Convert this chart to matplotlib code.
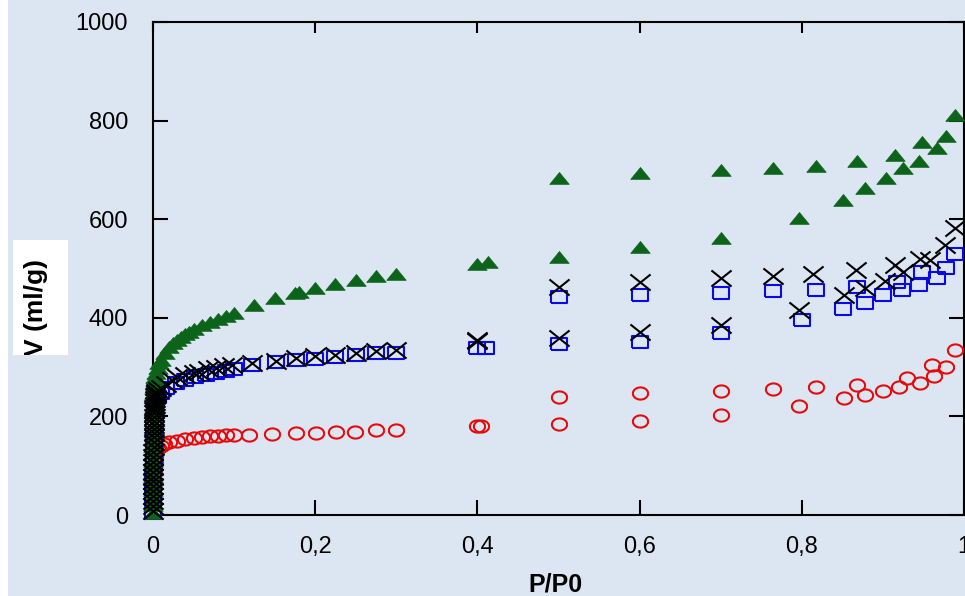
import matplotlib
matplotlib.use("Agg")
import matplotlib.pyplot as plt
import numpy as np
from matplotlib.path import Path
from matplotlib.patches import Rectangle
from matplotlib.ticker import FixedLocator, FuncFormatter

# ---- data ----
# green triangles
green_x = [0.0, 0.0, 0.0001, 0.0001, 0.0002, 0.0002, 0.0003, 0.0003, 0.0004, 0.0005,
           0.0006, 0.0007, 0.0008, 0.0009, 0.001, 0.0012, 0.0014, 0.0016, 0.0018, 0.002,
           0.0025, 0.003, 0.004, 0.006, 0.008, 0.01, 0.015, 0.02, 0.025, 0.03, 0.035,
           0.04, 0.045, 0.05, 0.06, 0.07, 0.08, 0.09, 0.1, 0.125, 0.15, 0.175, 0.18,
           0.2, 0.225, 0.25, 0.275, 0.3, 0.4, 0.5, 0.6, 0.7, 0.797, 0.851, 0.878,
           0.904, 0.925, 0.944, 0.967, 0.989,
           0.978, 0.948, 0.915, 0.868, 0.817, 0.764, 0.7, 0.6, 0.5, 0.413]
green_y = [5, 20, 35, 50, 65, 80, 95, 110, 125, 140,
           155, 170, 185, 200, 212, 224, 236, 248, 258, 266,
           274, 280, 288, 298, 308, 315, 328, 340, 348, 355, 362,
           367, 372, 377, 385, 392, 398, 404, 410, 425, 440, 450, 453,
           460, 468, 477, 485, 488, 510, 523, 544, 562, 602, 639, 663,
           684, 704, 718, 744, 811,
           769, 757, 730, 718, 708, 704, 700, 694, 683, 513]

# black crosses
black_x = [0.0, 0.0, 0.0001, 0.0001, 0.0002, 0.0002, 0.0003, 0.0003, 0.0004, 0.0004,
           0.0005, 0.0005, 0.0006, 0.0007, 0.0008, 0.0009, 0.001, 0.0011, 0.0012, 0.0013,
           0.0014, 0.0015, 0.0016, 0.0018, 0.002, 0.0022, 0.0025, 0.003, 0.0035, 0.004,
           0.006, 0.01, 0.016, 0.023, 0.03, 0.04, 0.05, 0.057, 0.068, 0.078,
           0.088, 0.098, 0.122, 0.152, 0.176, 0.2, 0.225, 0.25, 0.275, 0.3, 0.4,
           0.5, 0.6, 0.7, 0.797, 0.852, 0.878, 0.902, 0.925, 0.946, 0.977, 0.989,
           0.958, 0.915, 0.867, 0.814, 0.764, 0.7, 0.6, 0.5, 0.4]
black_y = [8, 18, 28, 38, 48, 58, 68, 78, 88, 98,
           108, 118, 128, 138, 148, 158, 166, 174, 182, 190,
           198, 206, 212, 218, 224, 230, 236, 241, 246, 250,
           254, 258, 266, 274, 279, 284, 288, 291, 296, 299,
           302, 304, 308, 313, 319, 322, 325, 328, 332, 335, 352,
           359, 371, 385, 416, 446, 460, 475, 493, 520, 548, 582,
           517, 507, 497, 489, 485, 481, 473, 462, 355]

# blue squares
blue_x = [0.0, 0.0002, 0.0004, 0.0006, 0.0008, 0.001, 0.0012, 0.0015, 0.002, 0.0025,
          0.003, 0.004, 0.006, 0.01, 0.016, 0.028, 0.04, 0.052, 0.065, 0.078,
          0.09, 0.1, 0.122, 0.152, 0.176, 0.2, 0.225, 0.25, 0.275, 0.3, 0.4, 0.41,
          0.5, 0.6, 0.7, 0.8, 0.851, 0.878, 0.9, 0.923, 0.944, 0.967, 0.989,
          0.978, 0.948, 0.917, 0.868, 0.817, 0.764, 0.7, 0.6, 0.5]
blue_y = [5, 30, 55, 80, 105, 130, 155, 180, 200, 215,
          225, 232, 240, 248, 258, 268, 274, 279, 284, 289,
          293, 296, 304, 310, 314, 316, 320, 325, 329, 329, 339, 339,
          347, 351, 369, 396, 418, 430, 446, 456, 466, 481, 529,
          501, 493, 473, 462, 456, 454, 450, 446, 442]

# red circles
red_x = [0.0, 0.0005, 0.001, 0.0015, 0.002, 0.003, 0.004, 0.006, 0.01, 0.014,
         0.02, 0.03, 0.04, 0.05, 0.06, 0.07, 0.08, 0.09, 0.1, 0.118, 0.147,
         0.176, 0.201, 0.226, 0.249, 0.275, 0.3, 0.4, 0.405, 0.5, 0.6, 0.7,
         0.797, 0.852, 0.878, 0.9, 0.92, 0.946, 0.963, 0.978, 0.989,
         0.96, 0.93, 0.868, 0.817, 0.764, 0.7, 0.6, 0.5]
red_y = [25, 45, 65, 85, 105, 120, 130, 136, 140, 145,
         148, 151, 154, 156, 158, 160, 161, 162, 163, 163, 164,
         166, 166, 168, 168, 172, 172, 180, 180, 184, 191, 203,
         221, 237, 243, 251, 260, 268, 282, 300, 335,
         304, 278, 264, 259, 255, 252, 248, 240]

x_ticks = [0, 0.2, 0.4, 0.6, 0.8, 1.0]
y_ticks = [0, 200, 400, 600, 800, 1000]

BG = "#dce6f2"
GREEN = "#0b6419"
BLUE = "#0a0ae6"
RED = "#e60a0a"

# marker shapes (the original is stretched horizontally)
tri = [(-1, -0.6), (1, -0.6), (0, 0.62), (-1, -0.6)]
rect = [(-1, -0.8), (1, -0.8), (1, 0.8), (-1, 0.8), (-1, -0.8)]
cross = Path([(-1, -0.8), (1, 0.8), (-1, 0.8), (1, -0.8)],
             [Path.MOVETO, Path.LINETO, Path.MOVETO, Path.LINETO])
t = np.linspace(0, 2 * np.pi, 25)
ell = list(zip(np.cos(t), 0.8 * np.sin(t)))

plt.rcParams['font.family'] = ['Liberation Sans', 'DejaVu Sans']

fig = plt.figure(figsize=(9.65, 5.96), dpi=100, facecolor=BG)
# white strip on the left edge
fig.patches.append(Rectangle((0, 0), 8 / 965, 1, transform=fig.transFigure,
                             facecolor="white", edgecolor="none", zorder=0))

ax = fig.add_axes([153 / 965, 81 / 596, 811 / 965, 493 / 596])
ax.set_facecolor(BG)

ax.plot(red_x, red_y, linestyle="none", marker=ell, markersize=11, clip_on=False,
        markerfacecolor="none", markeredgecolor=RED, markeredgewidth=1.5, zorder=3)
ax.plot(blue_x, blue_y, linestyle="none", marker=rect, markersize=11.5, clip_on=False,
        markerfacecolor="none", markeredgecolor=BLUE, markeredgewidth=1.5, zorder=4)
ax.plot(green_x, green_y, linestyle="none", marker=tri, markersize=14, clip_on=False,
        markerfacecolor=GREEN, markeredgecolor=GREEN, markeredgewidth=0.5, zorder=4.5)
ax.plot(black_x, black_y, linestyle="none", marker=cross, markersize=14.5, clip_on=False,
        markerfacecolor="none", markeredgecolor="black", markeredgewidth=1.5, zorder=5)

ax.set_xlim(0, 1)
ax.set_ylim(0, 1000)
ax.xaxis.set_major_locator(FixedLocator(x_ticks))
ax.yaxis.set_major_locator(FixedLocator(y_ticks))
ax.xaxis.set_major_formatter(FuncFormatter(lambda v, p: ("%g" % v).replace(".", ",")))

for s in ax.spines.values():
    s.set_linewidth(1.5)
ax.tick_params(axis="both", direction="in", length=11, width=1.5, labelsize=17,
               top=False, right=True)
ax.tick_params(axis="x", pad=15)
ax.tick_params(axis="y", pad=18)
# short top ticks
ax.tick_params(axis="x", which="major", top=True)
for tk in ax.xaxis.get_major_ticks():
    tk.tick2line.set_markersize(8)

fig.text(555 / 965, 1 - 584 / 596, "P/P0", ha="center", va="center",
         fontsize=18, fontweight="bold")

# y label in a white box, clipped like the source
box = Rectangle((13 / 965, 1 - 355 / 596), 55 / 965, 115 / 596,
                transform=fig.transFigure, facecolor="white", edgecolor="none", zorder=1)
fig.patches.append(box)
yl = fig.text(36 / 965, 1 - 307 / 596, "V (ml/g)", rotation=90, ha="center",
              va="center", fontsize=19, fontweight="bold", zorder=2)
yl.set_clip_path(box)

fig.savefig("out.png", dpi=100, facecolor=BG)
